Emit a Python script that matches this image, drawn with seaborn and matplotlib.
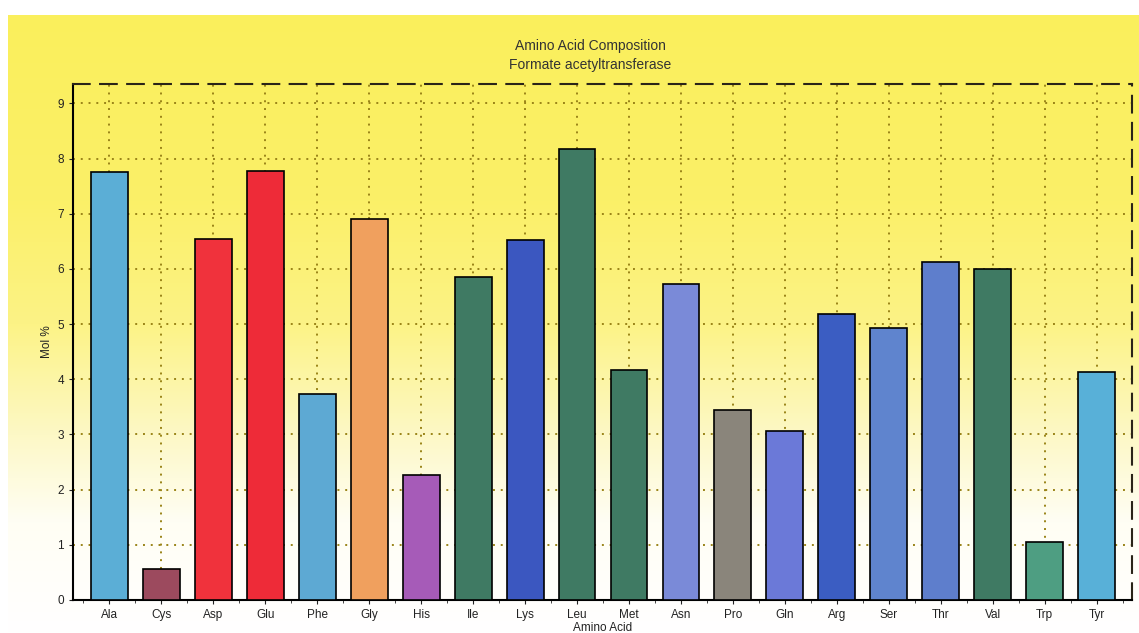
import numpy as np
import matplotlib
matplotlib.use("Agg")
import matplotlib.pyplot as plt
import seaborn as sns
import pandas as pd
from matplotlib.colors import LinearSegmentedColormap
from matplotlib.ticker import FixedLocator

# Amino acid composition of formate acetyltransferase (mol %)
amino_acids = ["Ala", "Cys", "Asp", "Glu", "Phe", "Gly", "His", "Ile", "Lys", "Leu",
               "Met", "Asn", "Pro", "Gln", "Arg", "Ser", "Thr", "Val", "Trp", "Tyr"]
mol_percent = [7.75, 0.56, 6.54, 7.78, 3.73, 6.91, 2.26, 5.86, 6.53, 8.17,
               4.17, 5.73, 3.45, 3.06, 5.19, 4.92, 6.13, 6.00, 1.05, 4.13]
bar_colors = ["#5BAED6", "#9C4A5E", "#F0323C", "#EE2B38", "#5DA9D3", "#F0A05E",
              "#A65BB8", "#3F7A63", "#3B57C0", "#3F7A63", "#3F7A63", "#7A8AD8",
              "#8A857B", "#6B79D8", "#3B5DC2", "#5F84CE", "#5E7ECC", "#3F7A63",
              "#4E9E82", "#58B0D8"]
y_ticks = list(range(0, 10))

df = pd.DataFrame({"Amino Acid": amino_acids, "Mol %": mol_percent})

sns.set_theme(style="white")
plt.rcParams["font.family"] = ["Liberation Sans", "DejaVu Sans"]

fig = plt.figure(figsize=(11.39, 6.33), dpi=100)
fig.patch.set_facecolor("white")

# Yellow-to-white vertical gradient panel behind the chart
bg = fig.add_axes([8 / 1139, 0, 1 - 8 / 1139, 1 - 15 / 633], zorder=-10)
grad = np.linspace(0, 1, 256).reshape(-1, 1)
cmap = LinearSegmentedColormap.from_list(
    "panel",
    [(0.0, "#FFFFFF"), (0.18, "#FFFEF4"), (0.32, "#FDF8C6"),
     (0.50, "#FCF386"), (0.70, "#FBF068"), (1.0, "#FAEF5C")])
bg.imshow(grad, aspect="auto", cmap=cmap, origin="lower", extent=[0, 1, 0, 1])
bg.set_axis_off()

ax = fig.add_axes([73 / 1139, 1 - 600 / 633, (1132 - 73) / 1139, (600 - 84) / 633])
ax.set_facecolor("none")

sns.barplot(data=df, x="Amino Acid", y="Mol %", hue="Amino Acid",
            palette=bar_colors, legend=False, width=0.71,
            edgecolor="black", linewidth=1.2, saturation=1, ax=ax, zorder=3)

ax.set_xlim(-0.70, len(amino_acids) - 1 + 0.68)
ax.set_ylim(0, 9.35)
ax.set_yticks(y_ticks)

ax.grid(True, linestyle=(0, (1, 3)), color="#9A8418", linewidth=1.4, zorder=0)
ax.set_axisbelow(True)

for side in ["left", "bottom"]:
    ax.spines[side].set_color("black")
    ax.spines[side].set_linewidth(1.5)
for side in ["top", "right"]:
    ax.spines[side].set_color("#2A2418")
    ax.spines[side].set_linewidth(1.5)
    ax.spines[side].set_linestyle((0, (8, 5)))

ax.tick_params(axis="both", which="major", direction="out", length=3, width=0.8,
               labelsize=8.5, colors="#222222", left=True, bottom=True)
# small ticks between categories along the bottom axis
ax.xaxis.set_minor_locator(FixedLocator(np.arange(-0.5, len(amino_acids), 0.5)))
ax.tick_params(axis="x", which="minor", length=2, width=0.6, bottom=True)

ax.set_xlabel("Amino Acid", fontsize=8.5, color="#222222", labelpad=1)
ax.set_ylabel("Mol %", fontsize=8.5, color="#222222", labelpad=3)

fig.text(590 / 1139, 1 - 46 / 633, "Amino Acid Composition", ha="center", va="center",
         fontsize=10, color="#333333")
fig.text(590 / 1139, 1 - 65 / 633, "Formate acetyltransferase", ha="center", va="center",
         fontsize=10, color="#333333")

fig.savefig("out.png", dpi=100)
